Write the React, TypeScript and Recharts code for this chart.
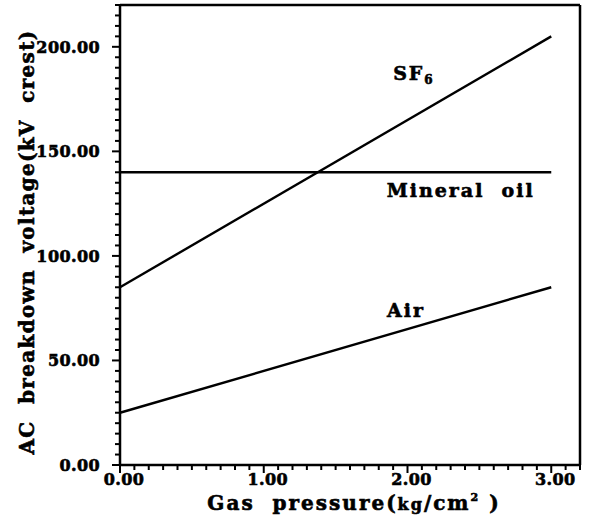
import React from "react";
import { LineChart, Line, XAxis, YAxis, ReferenceLine, ReferenceDot } from "recharts";

const pressure = [0, 3];
const sf6 = [85, 205];
const mineralOil = [140, 140];
const air = [25, 85];

const xMajorTicks = [0, 1, 2, 3];
const yMajorTicks = [0, 50, 100, 150, 200];
const xDomainMax = 3.2;
const yDomainMax = 220;

const xAllTicks = Array.from({ length: 33 }, (_, i) => i / 10);
const yAllTicks = Array.from({ length: 45 }, (_, i) => i * 5);

const data = pressure.map((p, i) => ({ p, sf6: sf6[i], oil: mineralOil[i], air: air[i] }));

const FONT = "'DejaVu Serif', serif";
const HEAVY = { stroke: "#000", strokeWidth: 0.6 };

const isMajor = (v: number, majors: number[]) => majors.some((m) => Math.abs(m - v) < 1e-6);

const XTick = (props: any) => {
  const { x, y, payload } = props;
  const v = payload.value;
  const major = isMajor(v, xMajorTicks);
  return (
    <g>
      <line x1={x} y1={y} x2={x} y2={y + (major ? 8 : 5)} stroke="#000" strokeWidth={2} />
      {major && (
        <text x={x + 4} y={y + 20} textAnchor="middle" fontFamily={FONT} fontWeight="bold" fontSize={16} letterSpacing={0.4} fill="#000" {...HEAVY}>
          {v.toFixed(2)}
        </text>
      )}
    </g>
  );
};

const YTick = (props: any) => {
  const { x, y, payload } = props;
  const v = payload.value;
  const major = isMajor(v, yMajorTicks);
  return (
    <g>
      <line x1={x - (major ? 8 : 5)} y1={y} x2={x} y2={y} stroke="#000" strokeWidth={2} />
      {major && (
        <text x={x - 20} y={y + 6} textAnchor="end" fontFamily={FONT} fontWeight="bold" fontSize={16} letterSpacing={0.4} fill="#000" {...HEAVY}>
          {v.toFixed(2)}
        </text>
      )}
    </g>
  );
};

const textLabel = (content: React.ReactNode, anchor: string = "middle") => (props: any) => (
  <text
    x={props.cx}
    y={props.cy}
    textAnchor={anchor}
    fontFamily={FONT}
    fontWeight="bold"
    fontSize={19}
    letterSpacing={2}
    fill="#000"
    {...HEAVY}
    xmlSpace="preserve"
    style={{ whiteSpace: "pre" }}
  >
    {content}
  </text>
);

export default function App() {
  return (
    <div style={{ position: "absolute", left: 0, top: 0, background: "#fff" }}>
      <LineChart width={594} height={521} data={data} margin={{ top: 5, right: 14, bottom: 0, left: 0 }}>
        <XAxis
          dataKey="p"
          type="number"
          domain={[0, xDomainMax]}
          ticks={xAllTicks}
          interval={0}
          tick={<XTick />}
          tickLine={false}
          tickSize={0}
          tickMargin={0}
          height={56}
          axisLine={{ stroke: "#000", strokeWidth: 2.5 }}
          label={{
            content: (p: any) => {
              const vb = p.viewBox;
              return (
                <text
                  x={vb.x + vb.width / 2 + 4}
                  y={vb.y + 45}
                  textAnchor="middle"
                  fontFamily={FONT}
                  fontWeight="bold"
                  fontSize={20}
                  letterSpacing={2}
                  fill="#000"
                  {...HEAVY}
                  xmlSpace="preserve"
                  style={{ whiteSpace: "pre" }}
                >
                  {"Gas  pressure("}
                  <tspan fontSize={16}>kg</tspan>/cm<tspan fontSize={11} dy={-9}>2</tspan>
                  <tspan dy={9}>{" )"}</tspan>
                </text>
              );
            },
          }}
        />
        <YAxis
          type="number"
          domain={[0, yDomainMax]}
          ticks={yAllTicks}
          interval={0}
          tick={<YTick />}
          tickLine={false}
          tickSize={0}
          tickMargin={0}
          width={120}
          axisLine={{ stroke: "#000", strokeWidth: 2.5 }}
          label={{
            content: (p: any) => {
              const vb = p.viewBox;
              return (
                <text
                  x={0}
                  y={0}
                  transform={`translate(${vb.x + 34}, ${vb.y + vb.height / 2 + 7}) rotate(-90)`}
                  textAnchor="middle"
                  fontFamily={FONT}
                  fontWeight="bold"
                  fontSize={20}
                  letterSpacing={1.3}
                  fill="#000"
                  {...HEAVY}
                  style={{ whiteSpace: "pre" }}
                  xmlSpace="preserve"
                >
                  {"AC  breakdown  voltage(kV  crest)"}
                </text>
              );
            },
          }}
        />
        <ReferenceLine x={xDomainMax} stroke="#000" strokeWidth={2.5} ifOverflow="visible" />
        <ReferenceLine y={yDomainMax} stroke="#000" strokeWidth={2.5} ifOverflow="visible" />
        <Line type="linear" dataKey="sf6" stroke="#000" strokeWidth={2.4} dot={false} isAnimationActive={false} />
        <Line type="linear" dataKey="oil" stroke="#000" strokeWidth={2.4} dot={false} isAnimationActive={false} />
        <Line type="linear" dataKey="air" stroke="#000" strokeWidth={2.4} dot={false} isAnimationActive={false} />
        <ReferenceDot
          x={1.9}
          y={184}
          r={0}
          ifOverflow="visible"
          shape={textLabel(
            <>
              SF<tspan fontSize={12} dy={4}>6</tspan>
            </>,
            "start"
          )}
        />
        <ReferenceDot x={2.37} y={128} r={0} ifOverflow="visible" shape={textLabel("Mineral  oil")} />
        <ReferenceDot x={1.99} y={71} r={0} ifOverflow="visible" shape={textLabel("Air")} />
      </LineChart>
    </div>
  );
}
